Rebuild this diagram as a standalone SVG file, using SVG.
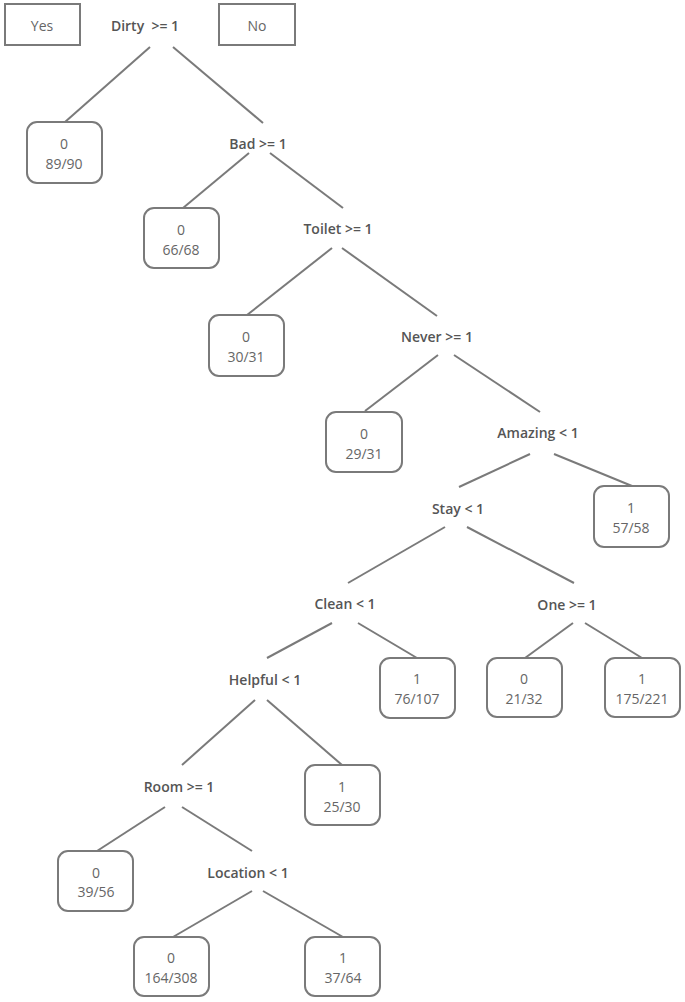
<svg xmlns="http://www.w3.org/2000/svg" width="685" height="1002" viewBox="0 0 685 1002">
<style>
.bg{fill:#ffffff}
.box{fill:#ffffff;stroke:#7a7a7a;stroke-width:2}
.leaf{fill:#ffffff;stroke:#7a7a7a;stroke-width:2}
.edge{stroke:#7a7a7a;stroke-width:2;fill:none}
.t{font-family:"Open Sans","Liberation Sans",sans-serif;font-size:14px;fill:#666666;text-anchor:middle;dominant-baseline:central}
.c{font-family:"Open Sans","Liberation Sans",sans-serif;font-size:14px;font-weight:600;fill:#555555;text-anchor:middle;dominant-baseline:central;white-space:pre}
</style>
<rect class="bg" x="0" y="0" width="685" height="1002"/>
<g id="connectors">
<line class="edge" x1="150" y1="47" x2="65" y2="122"/>
<line class="edge" x1="173" y1="47" x2="263" y2="123"/>
<line class="edge" x1="249" y1="153" x2="183" y2="208"/>
<line class="edge" x1="270" y1="153" x2="343" y2="208"/>
<line class="edge" x1="332" y1="248" x2="247" y2="315"/>
<line class="edge" x1="342" y1="248" x2="437" y2="316"/>
<line class="edge" x1="438" y1="355" x2="365" y2="411"/>
<line class="edge" x1="454" y1="355" x2="540" y2="412"/>
<line class="edge" x1="530" y1="454" x2="459" y2="487"/>
<line class="edge" x1="554" y1="454" x2="632" y2="486"/>
<line class="edge" x1="445" y1="527" x2="348" y2="583"/>
<line class="edge" x1="467" y1="527" x2="574" y2="583"/>
<line class="edge" x1="573" y1="623" x2="525" y2="658"/>
<line class="edge" x1="585" y1="623" x2="642" y2="658"/>
<line class="edge" x1="332" y1="623" x2="267" y2="658"/>
<line class="edge" x1="358" y1="623" x2="417" y2="658"/>
<line class="edge" x1="255" y1="700" x2="182" y2="765"/>
<line class="edge" x1="267" y1="700" x2="342" y2="765"/>
<line class="edge" x1="165" y1="807" x2="97" y2="851"/>
<line class="edge" x1="182" y1="807" x2="252" y2="851"/>
<line class="edge" x1="252" y1="891" x2="173" y2="937"/>
<line class="edge" x1="263" y1="891" x2="343" y2="937"/>
</g>
<g id="legend-yes"><rect class="box" x="5" y="4" width="75" height="41"/><text class="t" x="42" y="25">Yes</text></g>
<g id="legend-no"><rect class="box" x="219" y="4" width="76" height="41"/><text class="t" x="257" y="25">No</text></g>
<g id="n-dirty"><text class="c" x="145" y="25">Dirty  &gt;= 1</text></g>
<g id="n-bad"><text class="c" x="258" y="143">Bad &gt;= 1</text></g>
<g id="n-toilet"><text class="c" x="338" y="228">Toilet &gt;= 1</text></g>
<g id="n-never"><text class="c" x="437" y="336">Never &gt;= 1</text></g>
<g id="n-amazing"><text class="c" x="538" y="432">Amazing &lt; 1</text></g>
<g id="n-stay"><text class="c" x="458" y="508">Stay &lt; 1</text></g>
<g id="n-clean"><text class="c" x="345" y="603">Clean &lt; 1</text></g>
<g id="n-one"><text class="c" x="567" y="604">One &gt;= 1</text></g>
<g id="n-helpful"><text class="c" x="265" y="679">Helpful &lt; 1</text></g>
<g id="n-room"><text class="c" x="179" y="786">Room &gt;= 1</text></g>
<g id="n-location"><text class="c" x="248" y="872">Location &lt; 1</text></g>
<g id="l-89-90"><rect class="leaf" x="27" y="122" width="75" height="61" rx="10"/><text class="t" x="64" y="143">0</text><text class="t" x="64" y="163">89/90</text></g>
<g id="l-66-68"><rect class="leaf" x="144" y="208" width="75" height="60" rx="10"/><text class="t" x="181" y="229">0</text><text class="t" x="181" y="249">66/68</text></g>
<g id="l-30-31"><rect class="leaf" x="209" y="315" width="75" height="61" rx="10"/><text class="t" x="246" y="336">0</text><text class="t" x="246" y="356">30/31</text></g>
<g id="l-29-31"><rect class="leaf" x="326" y="412" width="76" height="60" rx="10"/><text class="t" x="364" y="433">0</text><text class="t" x="364" y="453">29/31</text></g>
<g id="l-57-58"><rect class="leaf" x="594" y="486" width="75" height="61" rx="10"/><text class="t" x="631" y="507">1</text><text class="t" x="631" y="527">57/58</text></g>
<g id="l-21-32"><rect class="leaf" x="487" y="658" width="75" height="59" rx="10"/><text class="t" x="524" y="678">0</text><text class="t" x="524" y="698">21/32</text></g>
<g id="l-175-221"><rect class="leaf" x="605" y="658" width="75" height="59" rx="10"/><text class="t" x="642" y="678">1</text><text class="t" x="642" y="698">175/221</text></g>
<g id="l-76-107"><rect class="leaf" x="380" y="658" width="75" height="60" rx="10"/><text class="t" x="417" y="678">1</text><text class="t" x="417" y="698">76/107</text></g>
<g id="l-25-30"><rect class="leaf" x="305" y="765" width="75" height="60" rx="10"/><text class="t" x="342" y="786">1</text><text class="t" x="342" y="806">25/30</text></g>
<g id="l-39-56"><rect class="leaf" x="58" y="851" width="75" height="60" rx="10"/><text class="t" x="96" y="872">0</text><text class="t" x="96" y="891">39/56</text></g>
<g id="l-164-308"><rect class="leaf" x="134" y="937" width="75" height="59" rx="10"/><text class="t" x="171" y="957">0</text><text class="t" x="171" y="977">164/308</text></g>
<g id="l-37-64"><rect class="leaf" x="305" y="937" width="75" height="59" rx="10"/><text class="t" x="343" y="957">1</text><text class="t" x="343" y="977">37/64</text></g>
</svg>
